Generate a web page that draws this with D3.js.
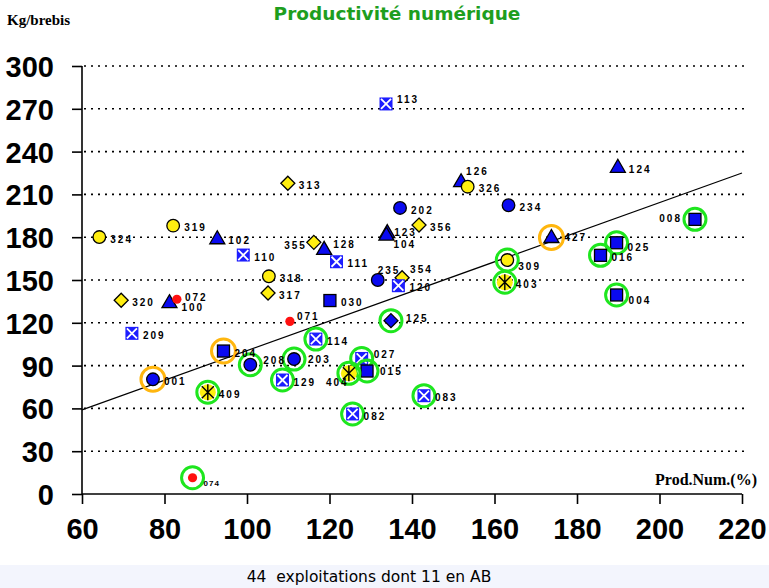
<!DOCTYPE html>
<html>
<head>
<meta charset="utf-8">
<script src="https://cdn.jsdelivr.net/npm/d3@7"></script>
<style>
  body { margin: 0; background: #fff; }
  svg { display: block; }
</style>
</head>
<body>
<div id="chart"></div>
<script>
// exploitations: id, productivite numerique (%), kg d'agneau / brebis
var ids =   ['324','319','102','110','318','317','320','100','072','071','209','313','355','113','126','326','202','234','356','123','104','128','111','427','309','403','124','008','025','016','004','235','354','120','030','125','114','203','027','015','404','083','082','129','208','204','001','409','074'];
var prodNum = [64.2, 82.1, 92.8, 99.1,105.3,105.1, 69.5, 81.2, 83.0,110.4, 72.1,109.9,116.2,133.7,151.9,153.5,137.1,163.4,141.7,134.0,133.8,118.7,121.7,173.8,163.1,162.5,189.9,208.6,189.6,185.7,189.6,131.7,137.6,136.7,120.1,134.9,116.7,111.4,127.8,129.1,124.7,142.9,125.6,108.6,100.8, 94.3, 77.2, 90.5, 86.8];
var kgBrebis = [180.1,188.1,178.9,167.5,152.6,140.9,135.8,134.1,136.5,121.0,112.6,217.8,176.4,273.4,218.9,215.4,200.5,202.4,188.5,183.2,181.5,171.5,162.8,179.8,164.0,148.4,229.0,192.5,176.1,167.3,139.5,150.0,151.6,146.0,135.6,121.5,108.6, 94.6, 95.0, 86.2, 84.6, 68.9, 56.1, 79.9, 90.6,100.2, 80.4, 71.3, 11.4];
// marker group of each point
var groups = ['yc','yc','bt','bx','yc','yd','yd','bt','rd','rd','bx','yd','yd','bx','bt','yc','bc','bc','yd','bt','bt','bt','bx','bt','yc','ys','bt','bs','bs','bs','bs','bc','yd','bx','bs','bd','bx','bc','bx','bs','ys','bx','bx','bx','bc','bs','bc','ys','rd'];
var greenRing = ['074','409','208','129','203','114','125','027','015','404','082','083','309','403','025','016','004','008'];
var orangeRing = ['001','204','427'];

// trend line end points
var trendX = [60, 220];
var trendY = [59, 225];

var xTicks = [60, 80, 100, 120, 140, 160, 180, 200, 220];
var yTicks = [0, 30, 60, 90, 120, 150, 180, 210, 240, 270, 300];

// label placement exceptions [dx, dy, anchor]
var labelPos = {
  '355': [-7, 3, 'end'], '008': [-13, -1, 'end'], '404': [-23, 9, 'start'],
  '104': [7, 9, 'start'], '123': [7, 0, 'start'], '126': [5, -10, 'start'],
  '235': [0, -10, 'start'], '354': [8, -8, 'start'], '113': [11, -5, 'start'],
  '128': [9, -5, 'start'], '071': [7, -5, 'start'], '072': [8, -2, 'start'],
  '100': [12, 5, 'start'], '027': [12, -4, 'start'], '208': [13, -4, 'start'],
  '309': [11, 6, 'start'], '025': [11, 5, 'start'], '004': [12, 5, 'start'],
  '074': [11, 5, 'start'], '125': [15, -2, 'start'], '203': [14, 0, 'start'],
  '015': [13, 0, 'start'], '427': [13, 0, 'start']
};

var width = 769, height = 588;
var blue = '#0a0af0', yellow = '#ffee10';

var svg = d3.select('#chart').append('svg')
  .attr('width', width).attr('height', height);

var x = d3.scaleLinear().domain([60, 220]).range([82, 742]);
var y = d3.scaleLinear().domain([0, 300]).range([494, 66]);

// bottom band
svg.append('rect').attr('x', 0).attr('y', 565).attr('width', width).attr('height', 23)
  .attr('fill', '#f3f5fd');
svg.append('text').attr('x', 369).attr('y', 582).attr('text-anchor', 'middle')
  .style('font-family', '"DejaVu Sans", sans-serif').style('font-size', '15.5px')
  .style('white-space', 'pre')
  .text('44  exploitations dont 11 en AB');

// title + axis names
svg.append('text').attr('x', 397).attr('y', 20).attr('text-anchor', 'middle')
  .style('font-family', '"DejaVu Sans", sans-serif').style('font-weight', 'bold')
  .style('font-size', '18.5px').attr('fill', '#1e9e1e')
  .text('Productivité numérique');
svg.append('text').attr('x', 7).attr('y', 25)
  .style('font-family', '"Liberation Serif", serif').style('font-weight', 'bold')
  .style('font-size', '15px').text('Kg/brebis');
svg.append('text').attr('x', 757).attr('y', 485).attr('text-anchor', 'end')
  .style('font-family', '"Liberation Serif", serif').style('font-weight', 'bold')
  .style('font-size', '16px').text('Prod.Num.(%)');

// dotted grid
svg.selectAll('line.grid').data(yTicks.filter(function (d) { return d > 0; }))
  .enter().append('line').attr('class', 'grid')
  .attr('x1', 84).attr('x2', 746)
  .attr('y1', function (d) { return y(d); }).attr('y2', function (d) { return y(d); })
  .attr('stroke', '#000').attr('stroke-width', 1.6).attr('stroke-dasharray', '2,5');

// axes
var yAxis = d3.axisLeft(y).tickValues(yTicks).tickSize(10).tickPadding(18);
var gy = svg.append('g').attr('transform', 'translate(82,0)').call(yAxis);
var xAxis = d3.axisBottom(x).tickValues(xTicks).tickSize(10).tickPadding(14);
var gx = svg.append('g').attr('transform', 'translate(0,494)').call(xAxis);
[gx, gy].forEach(function (g) {
  g.select('.domain').attr('stroke', '#000').attr('stroke-width', 1.6);
  g.selectAll('.tick line').attr('stroke', '#000').attr('stroke-width', 1.6);
  g.selectAll('.tick text').attr('fill', '#000')
    .style('font-family', '"Liberation Sans", Arial, sans-serif')
    .style('font-weight', 'bold').style('font-size', '29px');
});
gy.select('.domain').attr('d', 'M0,' + y(300) + 'V' + y(0));
gx.select('.domain').attr('d', 'M' + x(60) + ',0H' + x(220));
gy.selectAll('.tick text').attr('dy', '0.36em');

// trend line
svg.append('line')
  .attr('x1', x(trendX[0])).attr('y1', y(trendY[0]))
  .attr('x2', x(trendX[1])).attr('y2', y(trendY[1]))
  .attr('stroke', '#000').attr('stroke-width', 1.2);

var points = ids.map(function (id, i) {
  return { id: id, x: prodNum[i], y: kgBrebis[i], g: groups[i] };
});

function drawMarker(g, d) {
  if (d.g === 'yc' || d.g === 'bc') {
    g.append('circle').attr('r', 6.3).attr('fill', d.g === 'yc' ? yellow : blue)
      .attr('stroke', '#000').attr('stroke-width', 1.3);
  } else if (d.g === 'rd') {
    g.append('circle').attr('r', 4.6).attr('fill', '#ff1010');
  } else if (d.g === 'yd' || d.g === 'bd') {
    g.append('path').attr('d', 'M0,-7L7,0L0,7L-7,0Z')
      .attr('fill', d.g === 'yd' ? yellow : blue)
      .attr('stroke', '#000').attr('stroke-width', 1.3);
  } else if (d.g === 'bt') {
    g.append('path').attr('d', 'M0,-8L7.5,5L-7.5,5Z').attr('fill', blue)
      .attr('stroke', '#000').attr('stroke-width', 1.3);
  } else if (d.g === 'bs') {
    g.append('rect').attr('x', -6).attr('y', -6).attr('width', 12).attr('height', 12)
      .attr('fill', blue).attr('stroke', '#000').attr('stroke-width', 1.3);
  } else if (d.g === 'bx') {
    g.append('rect').attr('x', -6.5).attr('y', -6.5).attr('width', 13).attr('height', 13)
      .attr('fill', '#1d1dff');
    g.append('path').attr('d', 'M-5,-5L5,5M5,-5L-5,5')
      .attr('stroke', '#fff').attr('stroke-width', 1.8);
  } else if (d.g === 'ys') {
    g.append('circle').attr('r', 8).attr('fill', yellow);
    g.append('path').attr('d', 'M0,-8V8M-6,-6L6,6M6,-6L-6,6')
      .attr('stroke', '#000').attr('stroke-width', 1.4);
  }
  if (greenRing.indexOf(d.id) >= 0) {
    g.append('circle').attr('r', 11).attr('fill', 'none')
      .attr('stroke', '#1ee61e').attr('stroke-width', 3);
  }
  if (orangeRing.indexOf(d.id) >= 0) {
    g.append('circle').attr('r', 12).attr('fill', 'none')
      .attr('stroke', '#ffb60e').attr('stroke-width', 3);
  }
}

var pt = svg.selectAll('g.pt').data(points).enter().append('g')
  .attr('class', 'pt')
  .attr('transform', function (d) { return 'translate(' + x(d.x) + ',' + y(d.y) + ')'; });
pt.each(function (d) { drawMarker(d3.select(this), d); });

svg.selectAll('text.lbl').data(points).enter().append('text')
  .attr('class', 'lbl')
  .attr('x', function (d) { return x(d.x) + (labelPos[d.id] ? labelPos[d.id][0] : 11); })
  .attr('y', function (d) { return y(d.y) + (labelPos[d.id] ? labelPos[d.id][1] : 2); })
  .attr('dy', '0.36em')
  .attr('text-anchor', function (d) { return labelPos[d.id] ? labelPos[d.id][2] : 'start'; })
  .style('font-family', '"Liberation Sans", Arial, sans-serif')
  .style('font-weight', 'bold')
  .style('font-size', function (d) { return d.id === '074' ? '8px' : '10px'; })
  .style('letter-spacing', function (d) { return d.id === '074' ? '1px' : '2px'; })
  .text(function (d) { return d.id; });
</script>
</body>
</html>
